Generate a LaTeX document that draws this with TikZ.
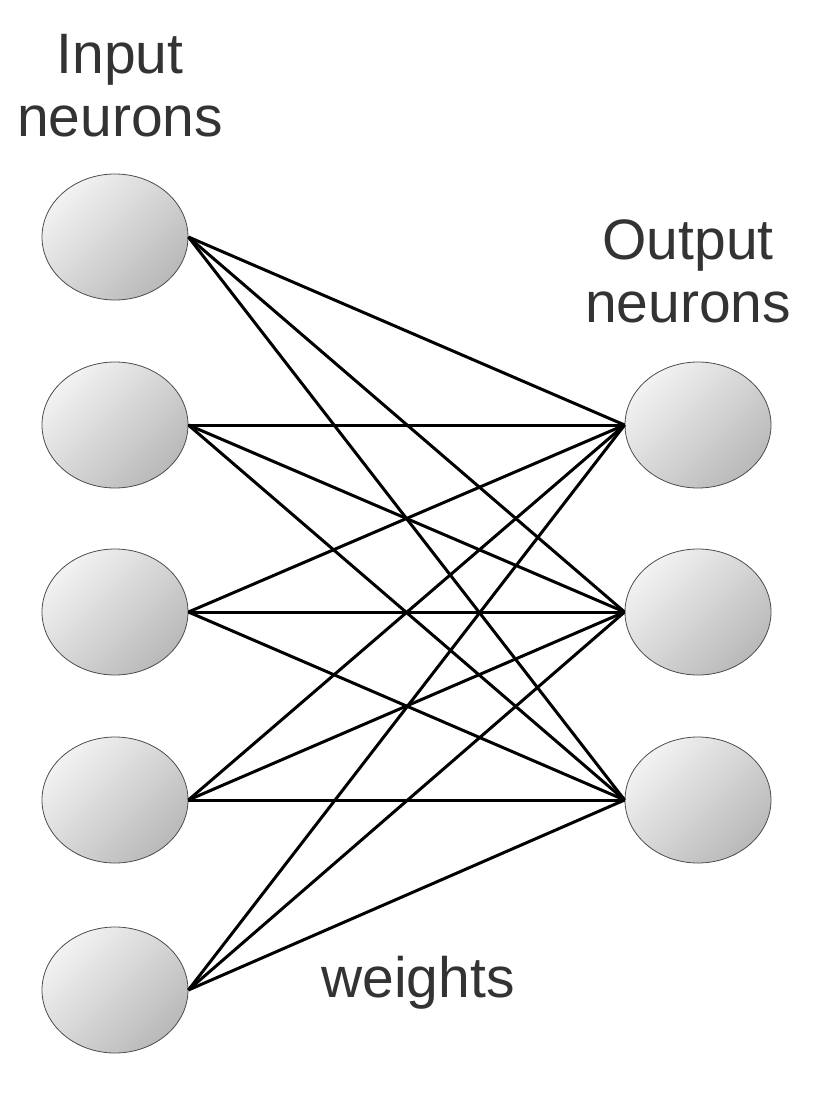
\documentclass[tikz,border=0pt]{standalone}
\usepackage{fontspec}
\setmainfont{Liberation Sans}
\usetikzlibrary{shapes.geometric}
\begin{document}
\begin{tikzpicture}[x=1pt,y=-1pt,
  neuron/.style={ellipse,draw=black!70,line width=0.8pt,minimum width=146pt,minimum height=126pt,inner sep=0pt,
    shading=axis,left color=gray!10,right color=gray!55,shading angle=45},
  lbl/.style={font=\fontsize{57}{63}\selectfont,text=black!80,align=center},
  w/.style={line width=3pt,black}]
\useasboundingbox (0,0) rectangle (838,1118);
\node[neuron] (i1) at (115,237) {};
\node[neuron] (i2) at (115,425) {};
\node[neuron] (i3) at (115,612) {};
\node[neuron] (i4) at (115,800) {};
\node[neuron] (i5) at (115,990) {};
\node[neuron] (o1) at (698,425) {};
\node[neuron] (o2) at (698,612) {};
\node[neuron] (o3) at (698,800) {};
\node[lbl] (tin) at (120,86) {Input\\neurons};
\node[lbl] (tout) at (688,271) {Output\\neurons};
\node[lbl] (tw) at (418,983) {weights};
\foreach \i in {1,...,5}{
  \foreach \o in {1,2,3}{
    \draw[w] (i\i.east) -- (o\o.west);
  }
}
\end{tikzpicture}
\end{document}
